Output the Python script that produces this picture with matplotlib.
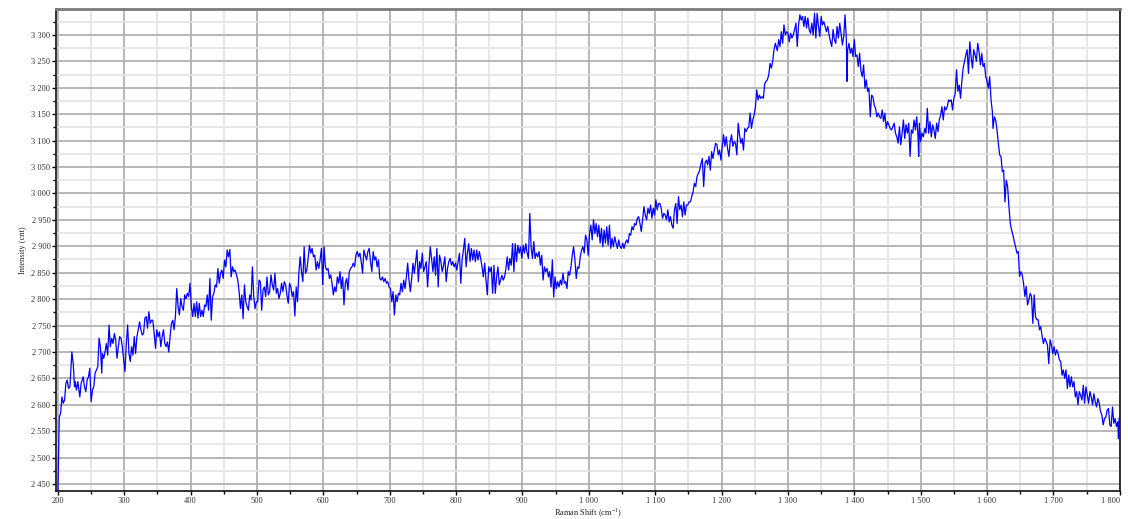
import matplotlib as mpl

mpl.use("Agg")

import matplotlib.pyplot as plt
from matplotlib.ticker import FuncFormatter, MultipleLocator

mpl.rcParams.update(
    {
        "font.family": "serif",
        "font.serif": ["Liberation Serif", "DejaVu Serif"],
        "font.size": 6,
        "mathtext.fontset": "custom",
        "mathtext.rm": "Liberation Serif",
    }
)

# Raman shift (cm-1) and intensity (cnt)
raman_shift = [
    200, 202, 204, 206, 208, 210, 212, 214, 216, 218, 221, 223, 225, 226, 228, 230,
    233, 235, 238, 240, 242, 244, 246, 248, 250, 252, 254, 256, 258, 260, 262, 264,
    266, 267, 269, 271, 273, 275, 277, 279, 281, 283, 285, 287, 289, 291, 293, 295,
    297, 299, 301, 303, 305, 307, 309, 311, 313, 315, 317, 319, 321, 323, 325, 327,
    329, 331, 333, 335, 337, 339, 341, 343, 345, 347, 349, 351, 353, 355, 357, 359,
    361, 363, 365, 367, 369, 371, 373, 375, 377, 379, 381, 383, 385, 387, 389, 391,
    393, 395, 397, 399, 401, 403, 405, 407, 409, 411, 413, 415, 417, 419, 421, 423,
    425, 427, 429, 431, 433, 435, 437, 439, 441, 443, 445, 447, 449, 451, 453, 455,
    457, 459, 461, 463, 465, 467,
    469, 471, 473, 475, 477, 479, 481, 483, 485, 487, 489, 491, 493, 495, 497, 499,
    501, 503, 505, 507, 509, 511, 513, 515, 517, 519, 521, 523, 525, 527, 529, 531,
    533, 535, 537, 539, 541, 543, 545, 547, 549, 551, 553, 555, 557, 559, 561, 563,
    565, 567, 569, 571, 573, 575, 577, 579, 581, 583, 585, 587, 589, 591, 593, 595,
    597, 599, 601, 603, 605, 607, 609, 611, 613, 615, 617, 619, 621, 623, 625, 627,
    629, 631, 633, 635, 637, 639, 641, 643, 645, 647, 649, 651, 653, 655, 657, 659,
    661, 663, 665, 667, 669, 671, 673, 675, 677, 679, 681, 683, 685, 687, 689, 691,
    693, 695, 697, 699, 701, 703, 705, 707, 709, 711, 713, 715, 717, 719, 721, 723,
    725, 727, 729, 731, 733, 735, 737, 739,
    741, 743, 745, 747, 749, 751, 753, 755, 757, 759, 761, 763, 765, 767, 769, 771,
    773, 775, 777, 779, 781, 783, 785, 787, 789, 791, 793, 795, 797, 799, 801, 803,
    805, 807, 809, 811, 813, 815, 817, 819, 821, 823, 825, 827, 829, 831, 833, 835,
    837, 839, 841, 843, 845, 847, 849, 851, 853, 855, 857, 859, 861, 863, 865, 867,
    869, 871, 873, 875, 877, 879, 881, 883, 885, 887, 889, 891, 893, 895, 897, 899,
    901, 903, 905, 907, 909, 911, 913, 915, 917, 919, 921, 923, 925, 927, 929, 931,
    933, 935, 937, 939, 941, 943, 945, 947, 949, 951, 953, 955, 957, 959, 961, 963,
    965, 967, 969, 971, 973, 975, 977, 979, 981, 983, 985, 987, 989, 991, 993, 995,
    997, 999, 1001, 1003, 1005, 1007, 1009,
    1011, 1013, 1015, 1017, 1019, 1021, 1023, 1025, 1027, 1029, 1031, 1033, 1035, 1037,
    1039, 1041, 1043, 1045, 1047, 1049, 1051, 1053, 1055, 1057, 1059, 1061, 1063, 1065,
    1067, 1069, 1071, 1073, 1075, 1077, 1079, 1081, 1083, 1085, 1087, 1089, 1091, 1093,
    1095, 1097, 1099, 1101, 1103, 1105, 1107, 1109, 1111, 1113, 1115, 1117, 1119, 1121,
    1123, 1125, 1127, 1129, 1131, 1133, 1135, 1137, 1139, 1141, 1143, 1145, 1147, 1149,
    1151, 1153, 1155, 1157, 1159, 1161, 1163, 1165, 1167, 1169, 1171, 1173, 1175, 1177,
    1179, 1181, 1183, 1185, 1187, 1189, 1191, 1193, 1195, 1197, 1199, 1201, 1203, 1205,
    1207, 1209, 1211, 1213, 1215, 1217, 1219, 1221, 1223, 1225, 1227, 1229, 1231, 1233,
    1235, 1237, 1239, 1241, 1243, 1245, 1247, 1249, 1251, 1253, 1255, 1257, 1259, 1261,
    1263, 1265, 1267, 1269, 1271, 1273, 1275, 1277, 1279, 1281,
    1284, 1286, 1288, 1290, 1292, 1294, 1296, 1298, 1300, 1302, 1304, 1306, 1308, 1310,
    1312, 1314, 1316, 1318, 1320, 1322, 1324, 1326, 1328, 1330, 1332, 1334, 1336, 1338,
    1340, 1342, 1344, 1346, 1348, 1350, 1352, 1354, 1356, 1358, 1360, 1362, 1364, 1366,
    1368, 1370, 1372, 1374, 1376, 1378, 1380, 1382, 1384, 1386, 1388, 1389, 1390, 1392,
    1394, 1396, 1398, 1400, 1402, 1404, 1406, 1408, 1410, 1412, 1414, 1416, 1418, 1420,
    1422, 1424, 1426, 1428, 1430, 1432, 1434, 1436, 1438, 1440, 1442, 1444, 1446, 1448,
    1450, 1452, 1454, 1456, 1458, 1460, 1462, 1464, 1466, 1468, 1470, 1472, 1474, 1476,
    1478, 1480, 1482, 1484, 1486, 1488, 1490, 1492, 1494, 1496, 1497, 1498, 1500, 1502,
    1504, 1506, 1508, 1510, 1512, 1514, 1516, 1518, 1520, 1522, 1524, 1526, 1528, 1530,
    1532, 1534, 1536, 1538, 1540, 1542, 1544, 1546, 1548, 1550, 1552,
    1554, 1556, 1558, 1560, 1562, 1564, 1566, 1568, 1570, 1572, 1574, 1576, 1578, 1580,
    1582, 1584, 1586, 1588, 1590, 1592, 1594, 1596, 1598, 1600, 1602, 1604, 1606, 1608,
    1609, 1611, 1613, 1615, 1617, 1619, 1621, 1623, 1625, 1627, 1629, 1631, 1633, 1635,
    1637, 1639, 1641, 1643, 1645, 1647, 1649, 1651, 1653, 1655, 1657, 1659, 1661, 1663,
    1665, 1667, 1669, 1671, 1673, 1675, 1677, 1679, 1681, 1683, 1685, 1687, 1689, 1691,
    1693, 1695, 1697, 1699, 1701, 1703, 1705, 1707, 1709, 1711, 1713, 1715, 1717, 1719,
    1721, 1723, 1725, 1727, 1729, 1731, 1733, 1735, 1737, 1739, 1741, 1743, 1745, 1747,
    1749, 1751, 1753, 1755, 1757, 1759, 1761, 1763, 1765, 1767, 1769, 1771, 1773, 1775,
    1777, 1779, 1781, 1783, 1785, 1787, 1789, 1791, 1793, 1795, 1797, 1798, 1799, 1800,
]

intensity = [
    2438, 2577, 2584, 2615, 2603, 2609, 2641, 2647, 2631, 2634, 2700, 2678, 2634, 2644, 2628, 2644,
    2615, 2641, 2653, 2634, 2625, 2647, 2653, 2669, 2606, 2628, 2634, 2660, 2666, 2672, 2726, 2710,
    2660, 2697, 2688, 2700, 2716, 2694, 2751, 2710, 2726, 2716, 2735, 2723, 2688, 2710, 2729, 2726,
    2710, 2685, 2663, 2716, 2751, 2697, 2682, 2710, 2694, 2729, 2697, 2729, 2742, 2757, 2742, 2732,
    2735, 2764, 2767, 2745, 2776, 2754, 2760, 2760, 2735, 2707, 2742, 2729, 2738, 2710, 2729, 2742,
    2716, 2710, 2719, 2700, 2729, 2754, 2760, 2742, 2767, 2820, 2786, 2770, 2801, 2786, 2779, 2808,
    2801, 2811, 2805, 2830, 2786, 2767, 2792, 2767, 2795, 2764, 2792, 2767, 2779, 2767, 2789, 2786,
    2808, 2779, 2839, 2760, 2805, 2811, 2827, 2823, 2858, 2830, 2849, 2855, 2839, 2874, 2861, 2893,
    2880, 2894, 2842, 2861, 2852, 2855,
    2846, 2836, 2814, 2782, 2808, 2763, 2827, 2795, 2786, 2779, 2808, 2798, 2861, 2805, 2782, 2795,
    2795, 2836, 2833, 2779, 2817, 2823, 2805, 2842, 2808, 2814, 2846, 2827, 2817, 2849, 2811, 2820,
    2801, 2811, 2830, 2814, 2833, 2827, 2808, 2792, 2830, 2823, 2805, 2814, 2768, 2823, 2795, 2849,
    2880, 2852, 2833, 2899, 2849, 2855, 2877, 2902, 2887, 2896, 2880, 2883, 2855, 2871, 2858, 2874,
    2896, 2827, 2899, 2861, 2855, 2858, 2839, 2846, 2830, 2808, 2823, 2814, 2842, 2830, 2852, 2820,
    2842, 2789, 2830, 2839, 2817, 2852, 2858, 2861, 2868, 2861, 2883, 2890, 2880, 2887, 2871, 2849,
    2893, 2883, 2874, 2890, 2896, 2871, 2852, 2890, 2874, 2880, 2861, 2874, 2839, 2836, 2842, 2833,
    2839, 2830, 2833, 2823, 2820, 2795, 2814, 2770, 2808, 2795, 2811, 2808, 2830, 2814, 2836, 2820,
    2842, 2868, 2836, 2814, 2839, 2868, 2849, 2871,
    2893, 2833, 2871, 2858, 2887, 2852, 2861, 2871, 2823, 2864, 2899, 2877, 2852, 2880, 2845, 2896,
    2823, 2883, 2871, 2852, 2864, 2880, 2833, 2858, 2871, 2877, 2864, 2871, 2861, 2868, 2855, 2871,
    2887, 2830, 2874, 2893, 2915, 2861, 2887, 2905, 2871, 2896, 2874, 2893, 2871, 2893, 2874, 2890,
    2877, 2861, 2842, 2868, 2836, 2808, 2861, 2852, 2861, 2811, 2864, 2811, 2842, 2861, 2827, 2836,
    2845, 2836, 2842, 2858, 2880, 2855, 2877, 2864, 2905, 2852, 2905, 2871, 2902, 2887, 2899, 2877,
    2902, 2887, 2905, 2887, 2877, 2962, 2899, 2877, 2909, 2877, 2887, 2880, 2890, 2864, 2883, 2836,
    2861, 2852, 2858, 2842, 2852, 2823, 2874, 2804, 2842, 2820, 2833, 2823, 2836, 2827, 2849, 2830,
    2833, 2820, 2852, 2845, 2861, 2883, 2899, 2874, 2839, 2861, 2858, 2880, 2893, 2899, 2887, 2921,
    2912, 2883, 2924, 2940, 2912, 2950, 2924,
    2943, 2918, 2940, 2906, 2934, 2899, 2931, 2906, 2937, 2902, 2940, 2896, 2915, 2899,
    2918, 2906, 2896, 2912, 2899, 2896, 2906, 2896, 2906, 2912, 2906, 2924, 2921, 2937,
    2931, 2943, 2940, 2953, 2956, 2943, 2928, 2950, 2975, 2959, 2950, 2972, 2962, 2978,
    2953, 2972, 2959, 2988, 2969, 2981, 2981, 2972, 2953, 2962, 2959, 2950, 2969, 2946,
    2956, 2940, 2934, 2969, 2981, 2943, 2994, 2969, 2978, 2956, 2984, 2959, 2978, 2978,
    2984, 2984, 2994, 3003, 3019, 3013, 3032, 3038, 3044, 3057, 3066, 3013, 3057, 3063,
    3054, 3070, 3044, 3079, 3066, 3082, 3095, 3092, 3073, 3082, 3063, 3089, 3111, 3089,
    3107, 3085, 3070, 3098, 3111, 3089, 3098, 3095, 3073, 3133, 3111, 3095, 3104, 3082,
    3123, 3117, 3123, 3126, 3152, 3123, 3139, 3148, 3164, 3196, 3177, 3186, 3180, 3183,
    3180, 3208, 3212, 3215, 3224, 3246, 3237, 3250, 3272, 3284,
    3270, 3291, 3278, 3306, 3284, 3319, 3300, 3306, 3303, 3287, 3303, 3294, 3300, 3310,
    3322, 3278, 3319, 3338, 3328, 3335, 3316, 3335, 3313, 3332, 3310, 3303, 3322, 3300,
    3341, 3294, 3341, 3316, 3297, 3335, 3319, 3325, 3316, 3306, 3316, 3300, 3287, 3278,
    3310, 3291, 3284, 3316, 3294, 3322, 3303, 3281, 3297, 3338, 3291, 3212, 3272, 3284,
    3265, 3275, 3259, 3291, 3259, 3262, 3240, 3265, 3231, 3221, 3243, 3199, 3215, 3193,
    3199, 3145, 3186, 3183, 3167, 3161, 3145, 3152, 3145, 3142, 3158, 3136, 3152, 3123,
    3136, 3130, 3123, 3120, 3126, 3133, 3114, 3107, 3095, 3126, 3092, 3114, 3139, 3104,
    3130, 3114, 3133, 3070, 3120, 3114, 3139, 3120, 3145, 3107, 3070, 3133, 3098, 3114,
    3107, 3123, 3114, 3161, 3114, 3136, 3107, 3130, 3120, 3104, 3133, 3117, 3139, 3148,
    3164, 3139, 3164, 3158, 3164, 3177, 3174, 3177, 3158, 3180, 3189,
    3234, 3193, 3205, 3180, 3212, 3237, 3250, 3262, 3272, 3227, 3287, 3259, 3237, 3272,
    3262, 3250, 3284, 3268, 3243, 3265, 3240, 3246, 3221, 3212, 3199, 3221, 3177, 3155,
    3123, 3145, 3139, 3120, 3095, 3073, 3070, 3041, 3044, 2984, 3025, 3013, 2975, 2943,
    2931, 2921, 2909, 2899, 2887, 2890, 2843, 2852, 2846, 2830, 2805, 2824, 2789, 2798,
    2811, 2805, 2754, 2808, 2767, 2761, 2761, 2742, 2748, 2729, 2716, 2726, 2720, 2713,
    2678, 2723, 2713, 2697, 2710, 2694, 2704, 2697, 2685, 2682, 2656, 2666, 2650, 2666,
    2631, 2656, 2634, 2653, 2634, 2644, 2615, 2625, 2600, 2625, 2618, 2609, 2637, 2603,
    2634, 2618, 2603, 2625, 2615, 2600, 2621, 2606, 2596, 2612, 2603, 2587, 2581, 2562,
    2574, 2577, 2590, 2593, 2562, 2559, 2596, 2565, 2574, 2559, 2568, 2536, 2574, 2577,
]

x_range = (197, 1801)
y_range = (2436, 3348)


def spaced(value, _pos):
    return f"{int(round(value)):,}".replace(",", " ")


fig = plt.figure(figsize=(11.28, 5.19), dpi=100)
ax = fig.add_axes([0.0496, 0.053, 0.9437, 0.9287])

ax.plot(raman_shift, intensity, color="#0000FF", lw=0.9, zorder=3)

ax.set_xlim(*x_range)
ax.set_ylim(*y_range)

ax.xaxis.set_major_locator(MultipleLocator(100))
ax.xaxis.set_minor_locator(MultipleLocator(50))
ax.yaxis.set_major_locator(MultipleLocator(50))
ax.yaxis.set_minor_locator(MultipleLocator(25))
ax.xaxis.set_major_formatter(FuncFormatter(spaced))
ax.yaxis.set_major_formatter(FuncFormatter(spaced))

ax.grid(which="major", color="#ababab", lw=1.2, zorder=0)
ax.grid(which="minor", color="#e3e3e3", lw=1.2, zorder=0)
ax.set_axisbelow(True)

ax.tick_params(which="major", direction="out", length=3, width=1.0, color="black",
               labelsize=6, pad=1, labelcolor="#333333")
ax.tick_params(which="minor", direction="out", length=2.5, width=1.0, color="black")

for side in ["left", "bottom", "right"]:
    ax.spines[side].set_color("#222222")
    ax.spines[side].set_linewidth(1.3)
ax.spines["top"].set_color("#7a7a7a")
ax.spines["top"].set_linewidth(2.0)

ax.set_xlabel("Raman Shift (cm$^{-1}$)", fontsize=6, labelpad=1, color="#222222")
ax.set_ylabel("Intensity (cnt)", fontsize=6, labelpad=3, color="#222222")

# the last x label is pulled left so it stays inside the figure, as in the reference
for lbl in ax.get_xticklabels():
    if lbl.get_text() == "1 800":
        lbl.set_horizontalalignment("right")
        lbl.set_x(1801)

fig.savefig("out.png", dpi=100)
